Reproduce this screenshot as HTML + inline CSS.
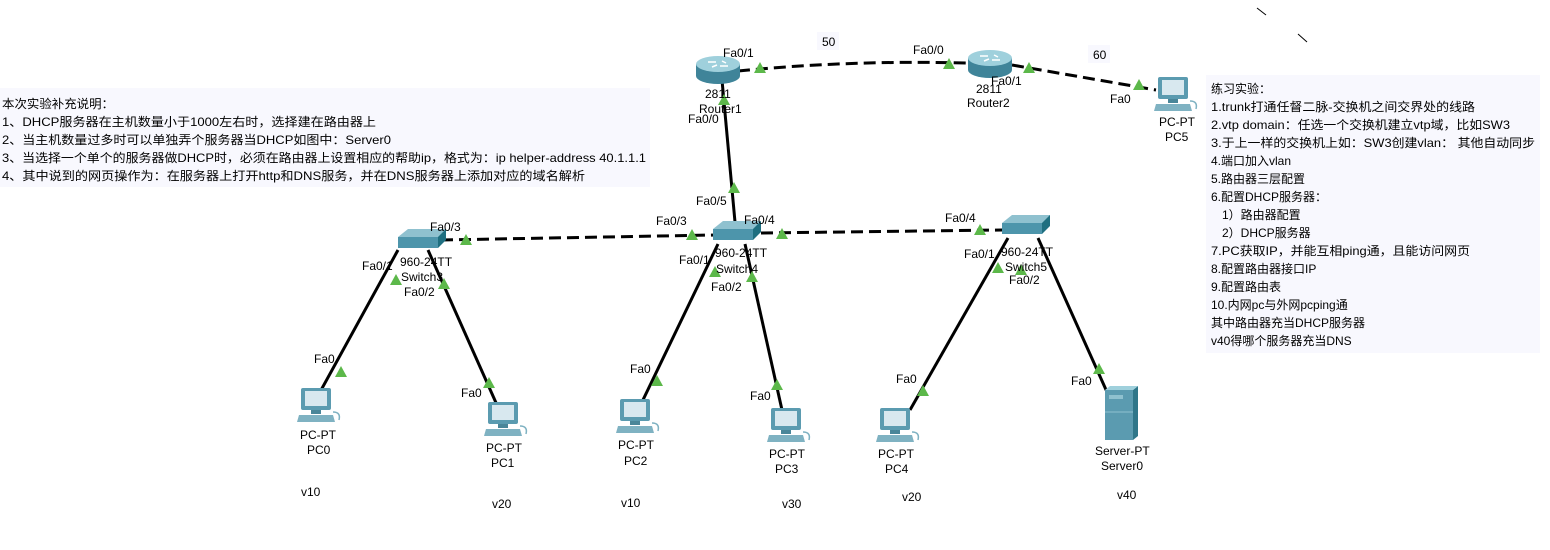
<!DOCTYPE html>
<html><head><meta charset="utf-8"><style>
html,body{margin:0;padding:0;background:#fff}
svg{display:block}
text{font-family:"Liberation Sans","Noto Sans CJK SC",sans-serif;font-size:12px;fill:#000}
</style></head><body>
<svg width="1550" height="550" viewBox="0 0 1550 550" xmlns="http://www.w3.org/2000/svg">
<defs>
<g id="pc">
 <rect x="2" y="0" width="30" height="22" rx="2" fill="#5b9bb0"/>
 <rect x="6" y="3" width="22" height="15" fill="#d8e8ef"/>
 <rect x="12" y="22" width="10" height="4" fill="#4a8699"/>
 <path d="M0 27 L34 27 L36 34 L-2 34 Z" fill="#7fb2c2"/>
 <path d="M34 24 q8 0 6 8" fill="none" stroke="#7fb2c2" stroke-width="1.5"/>
</g>
<g id="sw">
 <path d="M0 8 L10 0 L48 0 L48 8 Z" fill="#8fc1cf"/>
 <rect x="0" y="8" width="40" height="11" fill="#4d95ab"/>
 <path d="M40 8 L48 0 L48 11 L40 19 Z" fill="#1f6f80"/>
</g>
<g id="rt">
 <ellipse cx="0" cy="12" rx="22" ry="8" fill="#3f8499"/>
 <rect x="-22" y="0" width="44" height="12" fill="#3f8499"/>
 <ellipse cx="0" cy="0" rx="22" ry="8" fill="#9fd0dc"/>
 <path d="M-10 -2 L-2 -2 M2 2 L10 2 M-6 3 L-1 1 M4 -3 L8 -1" stroke="#fff" stroke-width="1.5"/>
</g>
<polygon id="tri" points="-6,5 6,5 0,-6" fill="#5cb84a"/>
</defs>

<rect x="0" y="88" width="650" height="99" fill="#f8f8fe"/>
<rect x="1206" y="75" width="334" height="278" fill="#f8f8fe"/>
<rect x="817" y="32" width="22" height="18" fill="#f8f8fe"/>
<rect x="1088" y="45" width="22" height="18" fill="#f8f8fe"/>

<g stroke="#000" stroke-width="3" fill="none">
 <path d="M738 71 Q850 60 966 63" stroke-dasharray="12,6"/>
 <path d="M1012 65 L1156 90" stroke-dasharray="12,6"/>
 <path d="M441 240 L715 235" stroke-dasharray="12,6"/>
 <path d="M761 233 L1002 230" stroke-dasharray="12,6"/>
 <line x1="722" y1="80" x2="735" y2="222"/>
 <line x1="398" y1="250" x2="320" y2="392"/>
 <line x1="428" y1="250" x2="497" y2="405"/>
 <line x1="718" y1="244" x2="642" y2="402"/>
 <line x1="745" y1="244" x2="782" y2="410"/>
 <line x1="1008" y1="238" x2="910" y2="410"/>
 <line x1="1038" y1="238" x2="1107" y2="392"/>
</g>
<g stroke="#000" stroke-width="1">
 <line x1="1257" y1="8" x2="1266" y2="15"/>
 <line x1="1298" y1="34" x2="1307" y2="42"/>
</g>

<use href="#rt" x="718" y="64"/>
<use href="#rt" x="990" y="58"/>
<use href="#pc" x="1156" y="77"/>
<use href="#sw" x="398" y="229"/>
<use href="#sw" x="713" y="221"/>
<use href="#sw" x="1002" y="215"/>
<use href="#pc" x="299" y="388"/>
<use href="#pc" x="486" y="402"/>
<use href="#pc" x="618" y="399"/>
<use href="#pc" x="769" y="408"/>
<use href="#pc" x="878" y="408"/>
<g>
 <rect x="1105" y="390" width="28" height="50" fill="#5b9bb0"/>
 <path d="M1133 390 L1138 386 L1138 436 L1133 440 Z" fill="#2f7689"/>
 <path d="M1105 390 L1110 386 L1138 386 L1133 390 Z" fill="#9fd0dc"/>
 <rect x="1109" y="395" width="14" height="4" fill="#8fc1cf"/>
 <line x1="1105" y1="412" x2="1133" y2="412" stroke="#8fc1cf"/>
</g>

<use href="#tri" x="760" y="68"/>
<use href="#tri" x="949" y="64"/>
<use href="#tri" x="1029" y="68"/>
<use href="#tri" x="1139" y="85"/>
<use href="#tri" x="724" y="100"/>
<use href="#tri" x="734" y="188"/>
<use href="#tri" x="466" y="240"/>
<use href="#tri" x="692" y="235"/>
<use href="#tri" x="782" y="234"/>
<use href="#tri" x="980" y="230"/>
<use href="#tri" x="396" y="280"/>
<use href="#tri" x="444" y="284"/>
<use href="#tri" x="715" y="272"/>
<use href="#tri" x="752" y="277"/>
<use href="#tri" x="998" y="268"/>
<use href="#tri" x="1021" y="270"/>
<use href="#tri" x="341" y="372"/>
<use href="#tri" x="489" y="383"/>
<use href="#tri" x="657" y="381"/>
<use href="#tri" x="777" y="385"/>
<use href="#tri" x="923" y="391"/>
<use href="#tri" x="1099" y="369"/>

<g>
 <text x="822" y="46">50</text>
 <text x="1093" y="59">60</text>
 <text x="723" y="57">Fa0/1</text>
 <text x="913" y="54">Fa0/0</text>
 <text x="991" y="85">Fa0/1</text>
 <text x="1110" y="103">Fa0</text>
 <text x="705" y="98">2811</text>
 <text x="699" y="113">Router1</text>
 <text x="976" y="93">2811</text>
 <text x="967" y="107">Router2</text>
 <text x="688" y="123">Fa0/0</text>
 <text x="1159" y="126">PC-PT</text>
 <text x="1165" y="141">PC5</text>
 <text x="696" y="205">Fa0/5</text>
 <text x="430" y="231">Fa0/3</text>
 <text x="656" y="225">Fa0/3</text>
 <text x="744" y="224">Fa0/4</text>
 <text x="945" y="222">Fa0/4</text>
 <text x="400" y="266">960-24TT</text>
 <text x="401" y="281">Switch3</text>
 <text x="715" y="257">960-24TT</text>
 <text x="716" y="273">Switch4</text>
 <text x="1001" y="256">960-24TT</text>
 <text x="1005" y="271">Switch5</text>
 <text x="362" y="270">Fa0/1</text>
 <text x="404" y="296">Fa0/2</text>
 <text x="679" y="264">Fa0/1</text>
 <text x="711" y="291">Fa0/2</text>
 <text x="964" y="258">Fa0/1</text>
 <text x="1009" y="284">Fa0/2</text>
 <text x="314" y="363">Fa0</text>
 <text x="461" y="397">Fa0</text>
 <text x="630" y="373">Fa0</text>
 <text x="750" y="400">Fa0</text>
 <text x="896" y="383">Fa0</text>
 <text x="1071" y="385">Fa0</text>
 <text x="300" y="439">PC-PT</text>
 <text x="307" y="454">PC0</text>
 <text x="486" y="452">PC-PT</text>
 <text x="491" y="467">PC1</text>
 <text x="618" y="449">PC-PT</text>
 <text x="624" y="465">PC2</text>
 <text x="769" y="458">PC-PT</text>
 <text x="775" y="473">PC3</text>
 <text x="878" y="458">PC-PT</text>
 <text x="885" y="473">PC4</text>
 <text x="1095" y="455">Server-PT</text>
 <text x="1101" y="470">Server0</text>
 <text x="301" y="496">v10</text>
 <text x="492" y="508">v20</text>
 <text x="621" y="507">v10</text>
 <text x="782" y="508">v30</text>
 <text x="902" y="501">v20</text>
 <text x="1117" y="499">v40</text>
</g>

<g>
 <text x="2" y="108" textLength="112" lengthAdjust="spacingAndGlyphs">本次实验补充说明：</text>
 <text x="2" y="126" textLength="374" lengthAdjust="spacingAndGlyphs">1、DHCP服务器在主机数量小于1000左右时，选择建在路由器上</text>
 <text x="2" y="144" textLength="389" lengthAdjust="spacingAndGlyphs">2、当主机数量过多时可以单独弄个服务器当DHCP如图中：Server0</text>
 <text x="2" y="162" textLength="644" lengthAdjust="spacingAndGlyphs">3、当选择一个单个的服务器做DHCP时，必须在路由器上设置相应的帮助ip，格式为：ip helper-address 40.1.1.1</text>
 <text x="2" y="180" textLength="583" lengthAdjust="spacingAndGlyphs">4、其中说到的网页操作为：在服务器上打开http和DNS服务，并在DNS服务器上添加对应的域名解析</text>
</g>

<g>
 <text x="1211" y="93">练习实验：</text>
 <text x="1211" y="111" textLength="264" lengthAdjust="spacingAndGlyphs">1.trunk打通任督二脉-交换机之间交界处的线路</text>
 <text x="1211" y="129" textLength="299" lengthAdjust="spacingAndGlyphs">2.vtp domain：任选一个交换机建立vtp域，比如SW3</text>
 <text x="1211" y="147" textLength="324" lengthAdjust="spacingAndGlyphs">3.于上一样的交换机上如：SW3创建vlan： 其他自动同步</text>
 <text x="1211" y="165">4.端口加入vlan</text>
 <text x="1211" y="183">5.路由器三层配置</text>
 <text x="1211" y="201">6.配置DHCP服务器：</text>
 <text x="1222" y="219">1）路由器配置</text>
 <text x="1222" y="237">2）DHCP服务器</text>
 <text x="1211" y="255" textLength="259" lengthAdjust="spacingAndGlyphs">7.PC获取IP，并能互相ping通，且能访问网页</text>
 <text x="1211" y="273">8.配置路由器接口IP</text>
 <text x="1211" y="291">9.配置路由表</text>
 <text x="1211" y="309">10.内网pc与外网pcping通</text>
 <text x="1211" y="327">其中路由器充当DHCP服务器</text>
 <text x="1211" y="345">v40得哪个服务器充当DNS</text>
</g>
</svg>
</body></html>
